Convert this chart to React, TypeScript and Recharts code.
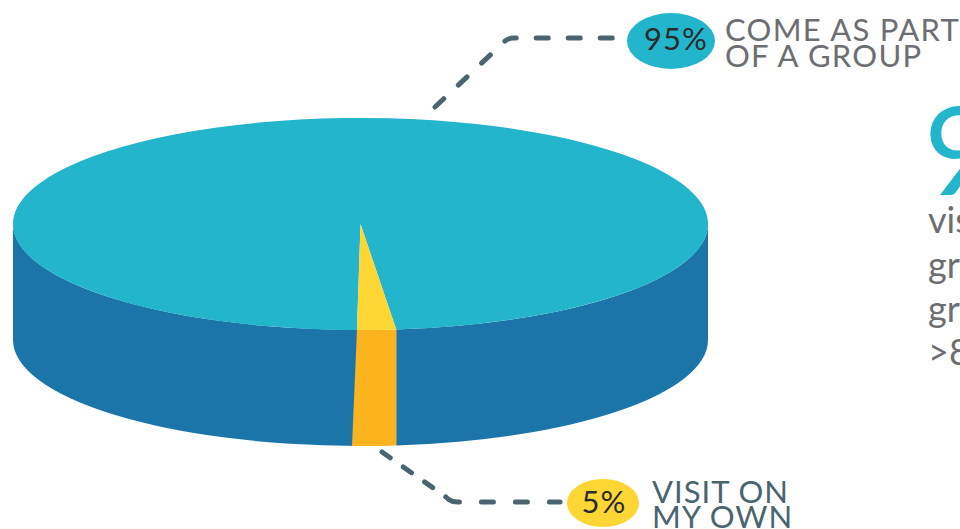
import { PieChart, Pie } from 'recharts'

// shares as drawn in the picture: the wedge is thinner than its 5% label
const sliceNames = ['Come as part of a group', 'Visit on my own']
const drawnShares = [98.2, 1.8]
const topColors = ['#22b5cb', '#fed634']
const wallColors = ['#1c75a9', '#fbb31e']

const groupLabel = ['COME AS PART', 'OF A GROUP']
const ownLabel = ['VISIT ON', 'MY OWN']
const sideLines = ['vis', 'gr', 'gr', '>8']

const data = sliceNames.map((name, i) => ({ name, value: drawnShares[i], fill: topColors[i] }))

const TILT = 106 / 347.5
const DEPTH = 116

function Slab(props: any) {
  const { cx, cy, outerRadius: r, startAngle, endAngle, index, payload } = props
  const ry = r * TILT
  const at = (deg: number, dy = 0, dx = 0) => {
    const a = (deg * Math.PI) / 180
    return `${cx + r * Math.cos(a) + dx} ${cy - ry * Math.sin(a) + dy}`
  }
  const i = index ?? sliceNames.indexOf(payload?.name ?? props.name)
  const lean = i === 1 ? 5 : 0 // the orange wall leans out a little at the foot
  const walls: string[] = []
  for (const k of [-1, 0, 1]) {
    const a = Math.max(startAngle, -180 + 360 * k)
    const b = Math.min(endAngle, 360 * k)
    if (a < b) {
      walls.push(
        `M${at(a)} A${r} ${ry} 0 0 0 ${at(b)} L${at(b, DEPTH)} A${r} ${ry} 0 0 1 ${at(a, DEPTH, -lean)} Z`,
      )
    }
  }
  const large = endAngle - startAngle > 180 ? 1 : 0
  return (
    <g>
      {walls.map((d) => (
        <path key={d} d={d} fill={wallColors[i]} />
      ))}
      <path d={`M${cx} ${cy} L${at(startAngle)} A${r} ${ry} 0 ${large} 0 ${at(endAngle)} Z`} fill={topColors[i]} />
    </g>
  )
}

const labelFont = { fontFamily: 'Lato', fontWeight: 400 }
const leader = { fill: 'none', stroke: '#4a6470', strokeWidth: 5, strokeLinecap: 'round' as const }

export default function App() {
  return (
    <div style={{ position: 'absolute', left: 0, top: 0, width: 960, height: 529, overflow: 'hidden', background: '#fff' }}>
      <PieChart width={960} height={529} margin={{ top: 0, right: 0, bottom: 0, left: 0 }}>
        <Pie
          data={data}
          dataKey="value"
          cx={360.5}
          cy={224}
          outerRadius={347.5}
          startAngle={-84.1}
          endAngle={275.9}
          stroke="none"
          shape={Slab}
          isAnimationActive={false}
        />
        <path d="M435 107 L503 43 Q507 38 514 38 L613 38" {...leader} strokeDasharray="12 20" />
        <path d="M382 452 L446 497" {...leader} strokeDasharray="10 16" />
        <path d="M448 499 Q452 502 458 502 L560 502" {...leader} strokeDasharray="12 22" />
        <ellipse cx={671} cy={41} rx={44} ry={28} fill="#22b5cb" />
        <ellipse cx={603} cy={503} rx={36} ry={24} fill="#fed634" />
        <text x={676} y={50} textAnchor="middle" fontSize={31} letterSpacing={1} fill="#2b2b2b" fontFamily="Lato">95%</text>
        <text x={604} y={513} textAnchor="middle" fontSize={31} letterSpacing={1} fill="#2b2b2b" fontFamily="Lato">5%</text>
        {groupLabel.map((t, i) => (
          <text key={t} x={725} y={41 + i * 26} fontSize={31} letterSpacing={1.3} fill="#6d6e71" {...labelFont}>{t}</text>
        ))}
        {ownLabel.map((t, i) => (
          <text key={t} x={652} y={503 + i * 25} fontSize={31} letterSpacing={1} fill="#4a6470" {...labelFont}>{t}</text>
        ))}
        <text x={924} y={195} fontSize={122} fill="#22b5cb" {...labelFont}>9</text>
        {sideLines.map((t, i) => (
          <text key={i} x={928} y={[233, 278, 322, 365][i]} fontSize={36} fill="#6d6e71" {...labelFont}>{t}</text>
        ))}
      </PieChart>
    </div>
  )
}
